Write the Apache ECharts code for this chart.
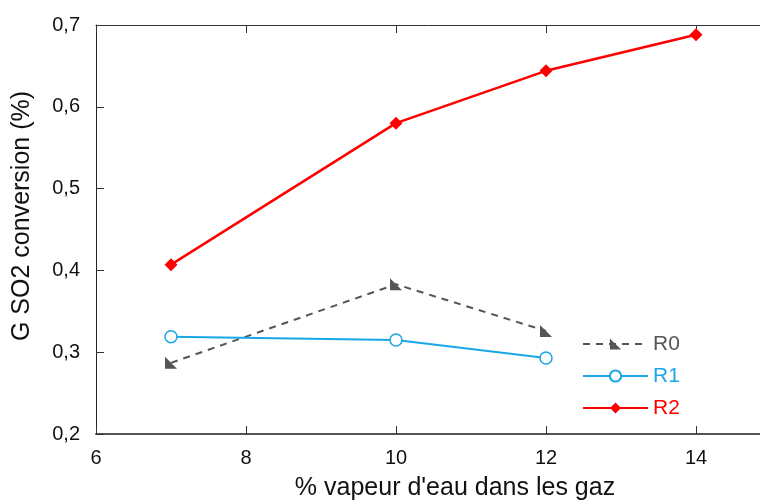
<!DOCTYPE html>
<html><head><meta charset="utf-8">
<script src="https://cdn.jsdelivr.net/npm/echarts@6/dist/echarts.min.js"></script>
<style>html,body{margin:0;padding:0;background:#fff}#c{width:760px;height:500px}</style>
</head><body><div id="c"></div>
<script>
const seriesNames = ['R0', 'R1', 'R2'];
const r0 = [[7, 0.287], [10, 0.383], [12, 0.326]];
const r1 = [[7, 0.319], [10, 0.315], [12, 0.293]];
const r2 = [[7, 0.407], [10, 0.580], [12, 0.644], [14, 0.688]];
const xTicks = [6, 8, 10, 12, 14, 16];
const yTicks = [0.2, 0.3, 0.4, 0.5, 0.6, 0.7];
const xTitle = "% vapeur d'eau dans les gaz";
const yTitle = 'G SO2 conversion (%)';

const font = 'Liberation Sans, Arial, sans-serif';
const chart = echarts.init(document.getElementById('c'), null, {renderer: 'canvas'});
const fmtY = v => v.toFixed(1).replace('.', ',');
chart.setOption({
  animation: false,
  grid: {left: 96, top: 25, right: -86, height: 409, containLabel: false, outerBoundsMode: 'none'},
  legend: {
    orient: 'vertical', left: 577, top: 328, itemWidth: 65, itemHeight: 14, itemGap: 10,
    textStyle: {fontFamily: font, fontSize: 21, lineHeight: 22, padding: [0, 0, 0, 0]},
    data: seriesNames.map((n, i) => ({name: n, textStyle: {color: ['#555555', '#1aa7e8', '#ff0000'][i]}}))
  },
  xAxis: [{
    type: 'value', min: 6, max: 16, interval: 2,
    axisLine: {lineStyle: {color: '#555', width: 2}},
    axisTick: {inside: true, length: 8, lineStyle: {color: '#333'}},
    axisLabel: {fontFamily: font, fontSize: 20, color: '#111', margin: 14},
    splitLine: {show: false}
  }, {
    type: 'value', min: 6, max: 16, interval: 2, position: 'top',
    axisLine: {show: true, lineStyle: {color: '#333', width: 1}},
    axisTick: {inside: true, length: 8, lineStyle: {color: '#333'}},
    axisLabel: {show: false}, splitLine: {show: false}
  }],
  yAxis: [{
    type: 'value', min: 0.2, max: 0.7, interval: 0.1,
    axisLine: {show: true, lineStyle: {color: '#222', width: 1}},
    axisTick: {show: true, inside: true, length: 8, lineStyle: {color: '#333'}},
    axisLabel: {fontFamily: font, fontSize: 20, color: '#111', margin: 16, formatter: fmtY},
    splitLine: {show: false}
  }],
  graphic: [
    {type: 'text', x: 455, y: 488, style: {text: xTitle, align: 'center', verticalAlign: 'middle', font: '25px ' + font, fill: '#111'}},
    {type: 'text', rotation: Math.PI / 2, x: 22, y: 216, style: {text: yTitle, align: 'center', verticalAlign: 'middle', font: '25px ' + font, fill: '#111'}}
  ],
  series: [
    {name: 'R0', type: 'line', data: r0, symbol: 'path://M0,0 L0,10 L10,10 Z', symbolSize: 12,
     lineStyle: {color: '#555555', width: 2, type: [7, 6]}, itemStyle: {color: '#555555'}},
    {name: 'R1', type: 'line', data: r1, symbol: 'circle', symbolSize: 12,
     lineStyle: {color: '#1aa7e8', width: 2}, itemStyle: {color: '#ffffff', borderColor: '#1aa7e8', borderWidth: 1.5}},
    {name: 'R2', type: 'line', data: r2, symbol: 'diamond', symbolSize: 13,
     lineStyle: {color: '#ff0000', width: 2.5}, itemStyle: {color: '#ff0000'}}
  ]
});
</script></body></html>
